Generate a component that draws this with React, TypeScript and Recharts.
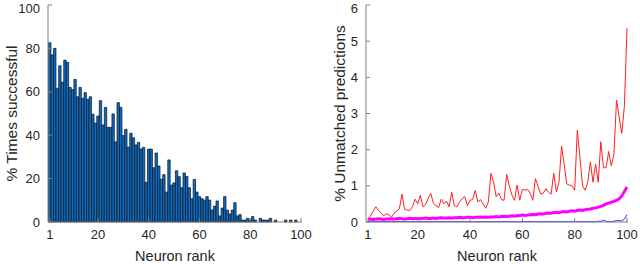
import { BarChart, Bar, LineChart, Line, XAxis, YAxis } from "recharts";

const ranks = Array.from({ length: 100 }, (_, i) => i + 1);
const rankTicks = [1, 20, 40, 60, 80, 100];

// % times successful, per neuron rank
const successRate = [
  82.6, 77, 80, 61.6, 72, 64.4, 74.6, 73.6, 62, 61,
  65.7, 57.7, 62, 57, 59.6, 56.5, 57.7, 49.7, 45.6, 48.8,
  55.9, 44.7, 52.8, 43.6, 43.6, 49.8, 36.9, 55, 52.8, 39.8,
  42.7, 34.5, 40.9, 38.8, 35.5, 36.7, 33.6, 34.4, 18.3, 33.6,
  33.6, 25, 31.8, 25.8, 19.7, 21.8, 13.8, 28.6, 17, 18,
  23.6, 20.9, 15.8, 22.6, 21, 15.8, 10.7, 19.6, 13.8, 11.7,
  10.7, 10.1, 11.7, 10.1, 5.5, 7.3, 9.7, 2.8, 6.4, 11.7,
  5.5, 3.7, 5.5, 8.9, 2.8, 3.4, 0.9, 0.9, 1.7, 0.9,
  2.5, 0.9, 0, 1.7, 0.9, 0.9, 0.9, 1.7, 0, 0.9,
  0, 0, 0, 0.9, 0, 0.9, 0, 0.9, 0, 0,
];

// % unmatched predictions
const unmatchedRed = [
  0.1, 0.17, 0.3, 0.42, 0.33, 0.25, 0.17, 0.23, 0.2, 0.13,
  0.25, 0.3, 0.37, 0.77, 0.35, 0.33, 0.32, 0.42, 0.63, 0.5,
  0.74, 0.42, 0.48, 0.65, 0.79, 0.52, 0.45, 0.4, 0.63, 0.5,
  0.58, 0.42, 0.82, 0.45, 0.42, 0.55, 0.65, 0.7, 0.45, 0.6,
  0.62, 0.87, 0.55, 0.62, 0.5, 0.38, 0.55, 1.35, 1.1, 0.7,
  0.8, 0.62, 0.6, 1.32, 1.0, 0.75, 0.6, 1.02, 0.6, 0.9,
  0.88, 0.9, 0.8, 0.6, 1.2, 0.98, 0.77, 0.8, 0.92, 0.82,
  0.77, 1.35, 0.83, 1.1, 2.1, 1.58, 1.05, 1.02, 1.0, 0.88,
  2.54, 1.8, 1.0, 0.88, 1.1, 1.66, 1.1, 1.6, 1.1, 2.22,
  1.5, 1.5, 1.95, 1.55, 1.87, 3.37, 2.9, 2.45, 3.2, 5.36,
];

const unmatchedMagenta = [
  0.07, 0.08, 0.07, 0.08, 0.09, 0.08, 0.07, 0.08, 0.09, 0.08,
  0.08, 0.09, 0.1, 0.09, 0.08, 0.09, 0.1, 0.09, 0.1, 0.1,
  0.09, 0.1, 0.11, 0.1, 0.1, 0.11, 0.1, 0.11, 0.12, 0.11,
  0.11, 0.12, 0.11, 0.12, 0.12, 0.13, 0.12, 0.12, 0.13, 0.13,
  0.12, 0.13, 0.13, 0.14, 0.13, 0.14, 0.13, 0.14, 0.14, 0.15,
  0.14, 0.15, 0.16, 0.15, 0.16, 0.17, 0.16, 0.17, 0.18, 0.19,
  0.18, 0.19, 0.2, 0.21, 0.2, 0.22, 0.23, 0.22, 0.24, 0.25,
  0.24, 0.26, 0.27, 0.26, 0.28, 0.29, 0.28, 0.3, 0.31, 0.3,
  0.32, 0.33, 0.32, 0.34, 0.35, 0.36, 0.38, 0.39, 0.41, 0.43,
  0.46, 0.5, 0.52, 0.55, 0.57, 0.6, 0.64, 0.72, 0.84, 0.97,
];

const unmatchedBlue = [
  0.01, 0.01, 0.01, 0.01, 0.01, 0.01, 0.01, 0.01, 0.01, 0.01,
  0.01, 0.01, 0.01, 0.01, 0.01, 0.01, 0.01, 0.01, 0.01, 0.01,
  0.01, 0.01, 0.01, 0.01, 0.01, 0.01, 0.01, 0.01, 0.01, 0.01,
  0.01, 0.01, 0.01, 0.01, 0.01, 0.01, 0.01, 0.01, 0.01, 0.01,
  0.01, 0.01, 0.01, 0.01, 0.01, 0.01, 0.01, 0.01, 0.01, 0.01,
  0.01, 0.01, 0.01, 0.01, 0.01, 0.01, 0.01, 0.01, 0.01, 0.01,
  0.01, 0.01, 0.01, 0.01, 0.01, 0.01, 0.01, 0.01, 0.01, 0.01,
  0.01, 0.01, 0.01, 0.01, 0.01, 0.01, 0.01, 0.01, 0.01, 0.01,
  0.01, 0.01, 0.01, 0.01, 0.01, 0.01, 0.01, 0.01, 0.02, 0.02,
  0.05, 0.02, 0.01, 0.01, 0.02, 0.04, 0.04, 0.03, 0.08, 0.2,
];

const barData = ranks.map((r, i) => ({ rank: r, success: successRate[i] }));
const lineData = ranks.map((r, i) => ({
  rank: r,
  red: unmatchedRed[i],
  magenta: unmatchedMagenta[i],
  blue: unmatchedBlue[i],
}));

const FONT = "'Liberation Sans', Arial, sans-serif";
const TEXT = "#262626";
const AXIS = "#808080";
const tickStyle = { fontSize: 13, fill: TEXT, fontFamily: FONT };

const yTitle = (text: string, x: number) => (props: any) => {
  const vb = props.viewBox;
  const cy = vb.y + vb.height / 2;
  return (
    <text
      x={x}
      y={cy}
      transform={`rotate(-90 ${x} ${cy})`}
      textAnchor="middle"
      dominantBaseline="central"
      fontSize={15.5}
      fontFamily={FONT}
      fill={TEXT}
    >
      {text}
    </text>
  );
};

const xTitle = (props: any) => {
  const vb = props.viewBox;
  return (
    <text
      x={vb.x + vb.width / 2}
      y={261}
      textAnchor="middle"
      fontSize={14.5}
      fontFamily={FONT}
      fill={TEXT}
    >
      Neuron rank
    </text>
  );
};

const SuccessChart = () => (
  <BarChart width={320} height={264} data={barData} margin={{ top: 5, right: 18, left: 0, bottom: 0 }} barGap={0}>
    <XAxis
      dataKey="rank"
      type="number"
      domain={[0.3, 100.4]}
      ticks={rankTicks}
      height={42}
      stroke={AXIS}
      tickSize={-4}
      tickMargin={12}
      tick={tickStyle}
      label={{ content: xTitle }}
    />
    <XAxis xAxisId="top" orientation="top" dataKey="rank" type="number" domain={[0.3, 100.4]} ticks={rankTicks} height={0} stroke={AXIS} tickSize={-4} tick={false} />
    <YAxis domain={[0, 100]} ticks={[0, 20, 40, 60, 80, 100]} width={48} stroke={AXIS} tickSize={-4} tickMargin={12} tick={tickStyle} label={{ content: yTitle("% Times successful", 11) }} />
    <YAxis yAxisId="r" orientation="right" domain={[0, 100]} ticks={[0, 20, 40, 60, 80, 100]} width={0} stroke={AXIS} tickSize={-4} tick={false} />
    <Bar dataKey="success" fill="#0b6fc6" stroke="#0a0f1a" strokeWidth={0.7} barSize={2.4} isAnimationActive={false} />
  </BarChart>
);

const UnmatchedChart = () => (
  <LineChart width={320} height={264} data={lineData} margin={{ top: 5, right: 12, left: 0, bottom: 0 }}>
    <XAxis
      dataKey="rank"
      type="number"
      domain={[0.24, 100.38]}
      ticks={rankTicks}
      height={42}
      stroke={AXIS}
      tickSize={-4}
      tickMargin={12}
      tick={tickStyle}
      label={{ content: xTitle }}
    />
    <XAxis xAxisId="top" orientation="top" dataKey="rank" type="number" domain={[0.24, 100.38]} ticks={rankTicks} height={0} stroke={AXIS} tickSize={-4} tick={false} />
    <YAxis domain={[0, 6]} ticks={[0, 1, 2, 3, 4, 5, 6]} width={46} stroke={AXIS} tickSize={-4} tickMargin={12} tick={tickStyle} label={{ content: yTitle("% Unmatched predictions", 19) }} />
    <YAxis yAxisId="r" orientation="right" domain={[0, 6]} ticks={[0, 1, 2, 3, 4, 5, 6]} width={0} stroke={AXIS} tickSize={-4} tick={false} />
    <Line type="linear" dataKey="red" stroke="#ff2020" strokeWidth={1} dot={false} isAnimationActive={false} />
    <Line type="linear" dataKey="magenta" stroke="#ff00ff" strokeWidth={3} dot={false} isAnimationActive={false} />
    <Line type="linear" dataKey="blue" stroke="#3030ff" strokeWidth={1} dot={false} isAnimationActive={false} />
  </LineChart>
);

export default function App() {
  return (
    <div style={{ position: "absolute", left: 0, top: 0, width: 640, height: 264, background: "#fff", display: "flex" }}>
      <SuccessChart />
      <UnmatchedChart />
    </div>
  );
}
